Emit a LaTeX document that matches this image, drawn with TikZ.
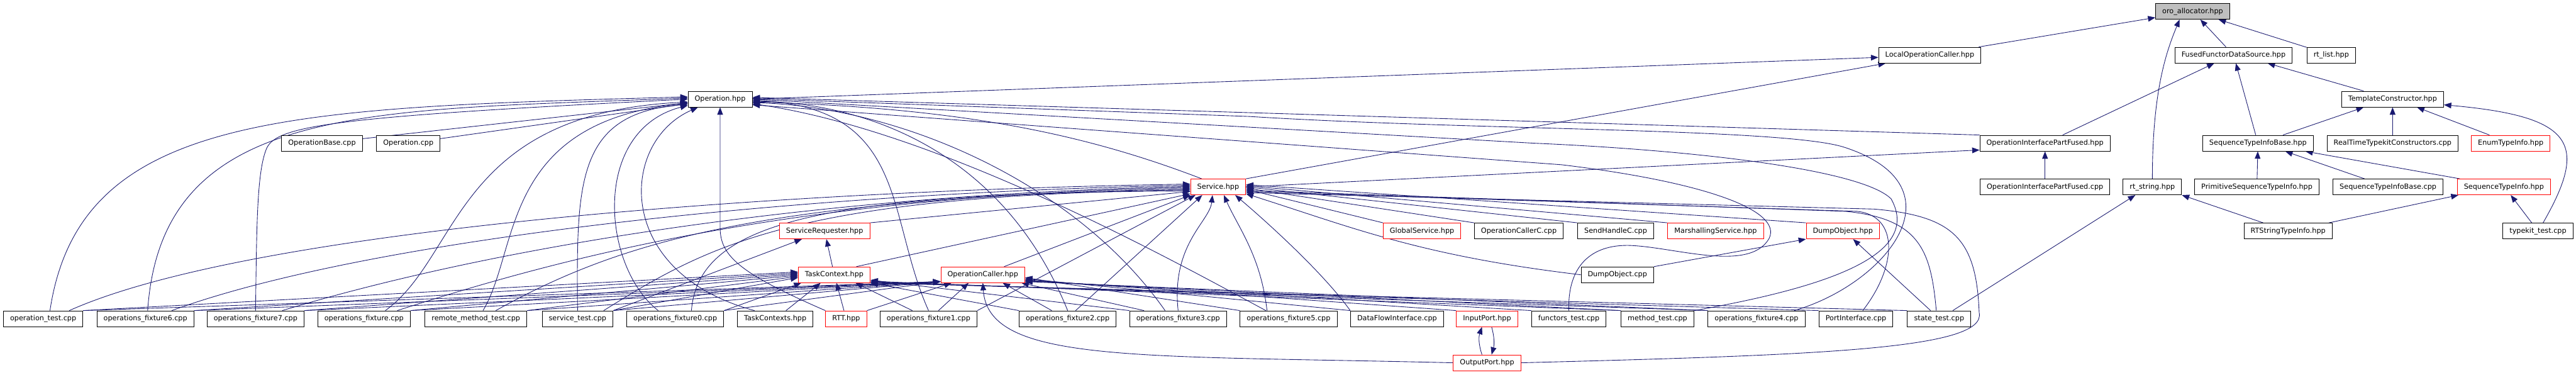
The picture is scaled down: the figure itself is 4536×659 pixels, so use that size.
\documentclass[tikz,border=0pt]{standalone}
\usepackage{fontspec}
\newfontfamily\dejavu{DejaVu Sans}
\usetikzlibrary{arrows.meta}
\usetikzlibrary{backgrounds}
\definecolor{edgeblue}{RGB}{25,25,112}
\definecolor{rootgrey}{RGB}{191,191,191}

\begin{document}
\begin{tikzpicture}[x=0.02cm,y=-0.02cm,
  fbox/.style={draw=black,fill=white,line width=0.6pt,inner xsep=0.234cm,inner ysep=0pt,minimum height=0.554cm,font=\dejavu\fontsize{7.08}{8.5}\selectfont},
  fred/.style={fbox,draw=red},
  froot/.style={fbox,fill=rootgrey},
  incl/.style={draw=edgeblue,line width=0.55pt,-{Triangle[length=0.26cm,width=0.2cm]}}]
\useasboundingbox (0,0) rectangle (4536,659);

\node[froot] (alloc) at (3861,20) {oro\_allocator.hpp};
\node[fbox] (loc) at (3398,97) {LocalOperationCaller.hpp};
\node[fbox] (ffds) at (3933,97) {FusedFunctorDataSource.hpp};
\node[fbox] (rtlist) at (4105,97) {rt\_list.hpp};
\node[fbox] (op) at (1268,174.5) {Operation.hpp};
\node[fbox] (tmplc) at (4213,174.5) {TemplateConstructor.hpp};
\node[fbox] (opbase) at (567,252) {OperationBase.cpp};
\node[fbox] (opcpp) at (719,252) {Operation.cpp};
\node[fbox] (oipf) at (3601,252) {OperationInterfacePartFused.hpp};
\node[fbox] (stib) at (3976,252) {SequenceTypeInfoBase.hpp};
\node[fbox] (rttc) at (4213,252) {RealTimeTypekitConstructors.cpp};
\node[fred] (enumti) at (4421,252) {EnumTypeInfo.hpp};
\node[fred] (service) at (2145,329) {Service.hpp};
\node[fbox] (oipfcpp) at (3601,329) {OperationInterfacePartFused.cpp};
\node[fbox] (rtstr) at (3790,329) {rt\_string.hpp};
\node[fbox] (psti) at (3974,329) {PrimitiveSequenceTypeInfo.hpp};
\node[fbox] (stibcpp) at (4205,329) {SequenceTypeInfoBase.cpp};
\node[fred] (sti) at (4409,329) {SequenceTypeInfo.hpp};
\node[fred] (srvreq) at (1452,406.5) {ServiceRequester.hpp};
\node[fred] (globsrv) at (2504,406.5) {GlobalService.hpp};
\node[fbox] (occ) at (2674.5,406.5) {OperationCallerC.cpp};
\node[fbox] (shc) at (2845,406.5) {SendHandleC.cpp};
\node[fred] (marsh) at (3021,406.5) {MarshallingService.hpp};
\node[fred] (dumph) at (3245,406.5) {DumpObject.hpp};
\node[fbox] (rtsti) at (4029,406.5) {RTStringTypeInfo.hpp};
\node[fbox] (tktest) at (4469,406.5) {typekit\_test.cpp};
\node[fred] (taskctx) at (1469,483.6) {TaskContext.hpp};
\node[fred] (opcaller) at (1730.6,483.6) {OperationCaller.hpp};
\node[fbox] (dumpcpp) at (2848,483.6) {DumpObject.cpp};
\node[fbox] (optest) at (76,561) {operation\_test.cpp};
\node[fbox] (fix6) at (256,561) {operations\_fixture6.cpp};
\node[fbox] (fix7) at (450,561) {operations\_fixture7.cpp};
\node[fbox] (fixt) at (641,561) {operations\_fixture.cpp};
\node[fbox] (remote) at (838,561) {remote\_method\_test.cpp};
\node[fbox] (srvtest) at (1017,561) {service\_test.cpp};
\node[fbox] (fix0) at (1189,561) {operations\_fixture0.cpp};
\node[fbox] (tcs) at (1365,561) {TaskContexts.hpp};
\node[fred] (rtt) at (1490,561) {RTT.hpp};
\node[fbox] (fix1) at (1635,561) {operations\_fixture1.cpp};
\node[fbox] (fix2) at (1880,561) {operations\_fixture2.cpp};
\node[fbox] (fix3) at (2074.5,561) {operations\_fixture3.cpp};
\node[fbox] (fix5) at (2269,561) {operations\_fixture5.cpp};
\node[fbox] (dfi) at (2460,561) {DataFlowInterface.cpp};
\node[fred] (inport) at (2618.5,561) {InputPort.hpp};
\node[fbox] (functors) at (2762.5,561) {functors\_test.cpp};
\node[fbox] (methodt) at (2918.6,561) {method\_test.cpp};
\node[fbox] (fix4) at (3093,561) {operations\_fixture4.cpp};
\node[fbox] (portif) at (3268,561) {PortInterface.cpp};
\node[fbox] (statet) at (3414.5,561) {state\_test.cpp};
\node[fred] (outport) at (2618.5,638.5) {OutputPort.hpp};

\begin{scope}[on background layer]
\fill[white] (0,0) rectangle (4536,659);
\draw[incl] (loc) -- (alloc);
\draw[incl] (ffds) -- (alloc);
\draw[incl] (rtlist) -- (alloc);
\draw[incl] (rtstr.north) .. controls (3790,165) and (3813,94) .. ([xshift=-0.46cm]alloc.south);
\draw[incl] (op.east) -- ([yshift=-0.08cm]loc.west);
\draw[incl] (service.north east) -- ([xshift=0.26cm]loc.south west);
\draw[incl] ([xshift=0.62cm]oipf.north) -- ([xshift=-0.68cm]ffds.south);
\draw[incl] (stib) -- (ffds);
\draw[incl] ([xshift=-1.02cm]tmplc.north) -- ([xshift=1.2cm]ffds.south);
\draw[incl] ([xshift=0.88cm]stib.north) -- ([xshift=-1.02cm]tmplc.south);
\draw[incl] (rttc) -- (tmplc);
\draw[incl] ([xshift=-0.75cm]enumti.north) -- ([xshift=0.86cm]tmplc.south);
\draw[incl] ([xshift=0.18cm]tktest.north) .. controls (4558,253) and (4534,205) .. ([yshift=-0.2cm]tmplc.east);
\draw[incl] (psti) -- (stib);
\draw[incl] ([xshift=-0.83cm]stibcpp.north) -- ([xshift=0.96cm]stib.south);
\draw[incl] ([xshift=0.1cm]sti.north west) -- ([xshift=1.67cm]stib.south);
\draw[incl] ([xshift=1.44cm]rtsti.north) -- ([xshift=-1.6cm]sti.south);
\draw[incl] ([xshift=-0.22cm]tktest.north) -- ([xshift=0.24cm]sti.south);
\draw[incl] ([xshift=-0.88cm]rtsti.north) -- (rtstr.south east);
\draw[incl] ([xshift=0.48cm]statet.north) -- ([xshift=-0.6cm]rtstr.south);
\draw[incl] (oipfcpp) -- (oipf);
\draw[incl] (oipf.north west) -- ([yshift=0.06cm]op.east);
\draw[incl] (service.east) -- ([yshift=-0.24cm]oipf.west);
\draw[incl] ([xshift=-0.58cm]service.north) .. controls (1916,238) and (1700,190) .. ([yshift=-0.1cm]op.east);

\draw[incl] ([xshift=0.24cm]optest.north) .. controls (140,200) and (500,190) .. ([yshift=0.08cm]op.west);
\draw[incl] ([xshift=0.08cm]fix6.north) .. controls (285,180) and (650,195) .. ([yshift=0.04cm]op.west);
\draw[incl] (fix7.north) .. controls (452,400) and (452,300) .. (470,260) .. controls (490,220) and (600,205) .. (op.west);
\draw[incl] (opbase) -- (op);
\draw[incl] (opcpp) -- (op);
\draw[incl] ([xshift=0.75cm]fixt.north) .. controls (812,450) and (800,200) .. ([yshift=-0.1cm]op.west);
\draw[incl] ([xshift=0.25cm]remote.north) .. controls (915,440) and (880,215) .. ([yshift=-0.14cm]op.west);
\draw[incl] (srvtest.north) .. controls (1015,320) and (1015,200) .. ([yshift=-0.18cm]op.west);
\draw[incl] ([xshift=-0.6cm]fix0.north) .. controls (1060,470) and (1040,230) .. ([yshift=-0.22cm]op.west);
\draw[incl] ([xshift=-0.73cm]tcs.north) .. controls (1080,480) and (1090,250) .. ([xshift=0.36cm]op.south west);
\draw[incl] (rtt.north west) .. controls (1300,480) and (1268,450) .. (1268,400) -- (op.south);
\draw[incl] (fix1.north) .. controls (1560,380) and (1600,190) .. ([yshift=-0.04cm]op.east);
\draw[incl] (fix2.north) .. controls (1760,250) and (1500,180) .. ([yshift=-0.08cm]op.east);
\draw[incl] ([xshift=-0.46cm]fix3.north) .. controls (1900,330) and (1600,190) .. ([yshift=-0.12cm]op.east);
\draw[incl] ([xshift=-0.8cm]fix5.north) .. controls (2050,450) and (1650,230) .. ([yshift=-0.16cm]op.east);
\draw[incl] ([xshift=1.33cm]fix4.north) .. controls (3320,500) and (3460,330) .. (3250,260) .. controls (3150,225) and (2600,230) .. (2200,205) -- ([yshift=0.02cm]op.east);
\draw[incl] (methodt.north east) .. controls (3250,500) and (3380,440) .. (3330,350) .. controls (3280,300) and (3000,265) .. (2700,252) -- (op.east);
\draw[incl] (functors.north) .. controls (2760,470) and (2800,430) .. (2870,432) .. controls (2950,435) and (3080,480) .. (3115,420) .. controls (3140,370) and (3000,320) .. (2750,290) -- ([yshift=-0.2cm]op.east);

\draw[incl] (srvreq.north east) -- ([yshift=-0.16cm]service.west);
\draw[incl] ([xshift=0.78cm]taskctx.north) -- ([yshift=-0.24cm]service.west);
\draw[incl] ([xshift=0.75cm]opcaller.north) -- (service.south west);
\draw[incl] ([xshift=0.92cm]optest.north) .. controls (450,400) and (1400,335) .. ([yshift=0.1cm]service.west);
\draw[incl] ([xshift=0.93cm]fix6.north) .. controls (650,420) and (1400,340) .. ([yshift=0.06cm]service.west);
\draw[incl] ([xshift=0.94cm]fix7.north) .. controls (850,440) and (1400,345) .. ([yshift=0.02cm]service.west);
\draw[incl] ([xshift=1.17cm]fixt.north) .. controls (1000,450) and (1400,345) .. ([yshift=-0.02cm]service.west);
\draw[incl] ([xshift=0.7cm]remote.north) .. controls (1100,420) and (1350,350) .. ([yshift=-0.06cm]service.west);
\draw[incl] ([xshift=0.92cm]srvtest.north) .. controls (1250,430) and (1400,345) .. ([yshift=-0.1cm]service.west);
\draw[incl] ([xshift=0.57cm]fix0.north) .. controls (1230,390) and (1450,340) .. ([yshift=-0.14cm]service.west);
\draw[incl] (fix1.north east) -- ([xshift=-0.8cm]service.south);
\draw[incl] ([xshift=0.28cm]fix2.north) -- ([xshift=-0.56cm]service.south);
\draw[incl] (fix3.north) .. controls (2062,430) and (2130,390) .. ([xshift=-0.2cm]service.south);
\draw[incl] ([xshift=-0.76cm]fix5.north) .. controls (2220,450) and (2180,400) .. ([xshift=0.2cm]service.south);
\draw[incl] (dfi.north west) .. controls (2330,480) and (2230,390) .. ([xshift=0.6cm]service.south);
\draw[incl] (dumph.north west) -- ([yshift=0.08cm]service.east);
\draw[incl] (marsh.north west) -- ([yshift=0.04cm]service.east);
\draw[incl] (shc.north west) -- (service.east);
\draw[incl] (occ.north west) -- ([yshift=-0.04cm]service.east);
\draw[incl] (globsrv.north west) -- ([yshift=-0.08cm]service.east);
\draw[incl] ([xshift=-0.1cm]statet.north) .. controls (3400,440) and (3380,385) .. (3250,372) -- ([yshift=-0.12cm]service.east);
\draw[incl] ([xshift=0.24cm]portif.north) .. controls (3340,470) and (3345,380) .. (3270,372) -- ([yshift=-0.16cm]service.east);
\draw[incl] (outport.east) .. controls (3200,625) and (3500,615) .. (3485,550) .. controls (3480,420) and (3440,380) .. (3300,368) -- ([yshift=-0.2cm]service.east);
\draw[incl] (dumpcpp.west) .. controls (2500,450) and (2380,400) .. ([yshift=-0.24cm]service.east);

\draw[incl] (taskctx) -- (srvreq);
\draw[incl] (srvtest.north east) -- ([xshift=-0.8cm]srvreq.south);
\draw[incl] (optest.north east) -- ([yshift=0.1cm]taskctx.west);
\draw[incl] (fix6.north east) -- ([yshift=0.06cm]taskctx.west);
\draw[incl] (fix7.north east) -- ([yshift=0.02cm]taskctx.west);
\draw[incl] (fixt.north east) -- ([yshift=-0.02cm]taskctx.west);
\draw[incl] (remote.north east) -- ([yshift=-0.06cm]taskctx.west);
\draw[incl] (srvtest.north east) -- ([yshift=-0.1cm]taskctx.west);
\draw[incl] (fix0.north east) -- ([xshift=-1.16cm]taskctx.south);
\draw[incl] ([xshift=0.38cm]tcs.north) -- ([xshift=-0.48cm]taskctx.south);
\draw[incl] (rtt) -- (taskctx);
\draw[incl] ([xshift=-0.57cm]fix1.north) -- ([xshift=0.75cm]taskctx.south);
\draw[incl] (fix2.north west) -- (taskctx.south east);
\draw[incl] (fix3.north west) -- ([yshift=0.1cm]taskctx.south east);
\draw[incl] (methodt.north west) -- ([yshift=0.06cm]taskctx.south east);
\draw[incl] (fix4.north west) -- ([yshift=0.04cm]taskctx.south east);
\draw[incl] (portif.north west) -- ([yshift=0.02cm]taskctx.south east);
\draw[incl] (statet.north west) -- (taskctx.south east);

\draw[incl] (optest.north east) -- ([yshift=-0.24cm]opcaller.west);
\draw[incl] (fix6.north east) -- ([yshift=-0.24cm]opcaller.west);
\draw[incl] (fix7.north east) -- ([yshift=-0.24cm]opcaller.west);
\draw[incl] (fixt.north east) -- ([yshift=-0.24cm]opcaller.west);
\draw[incl] (remote.north east) -- ([yshift=-0.24cm]opcaller.west);
\draw[incl] (srvtest.north east) -- ([yshift=-0.24cm]opcaller.west);
\draw[incl] (fix0.north east) -- ([yshift=-0.24cm]opcaller.west);
\draw[incl] (rtt.north east) -- ([xshift=-1.1cm]opcaller.south);
\draw[incl] ([xshift=0.35cm]fix1.north) -- ([xshift=-0.5cm]opcaller.south);
\draw[incl] ([xshift=-0.56cm]fix2.north) -- ([xshift=0.7cm]opcaller.south);
\draw[incl] ([xshift=-1.2cm]fix3.north) -- ([xshift=1.36cm]opcaller.south);
\draw[incl] (fix5.north west) -- ([yshift=-0.1cm]opcaller.east);
\draw[incl] (dfi.north west) -- ([yshift=-0.14cm]opcaller.east);
\draw[incl] (inport.north west) -- ([yshift=-0.18cm]opcaller.east);
\draw[incl] (functors.north west) -- ([yshift=-0.2cm]opcaller.east);
\draw[incl] (methodt.north west) -- ([yshift=-0.22cm]opcaller.east);
\draw[incl] (fix4.north west) -- ([yshift=-0.24cm]opcaller.east);
\draw[incl] (outport.west) .. controls (2000,625) and (1740,640) .. (opcaller.south);

\draw[incl] (dumpcpp.north east) -- (dumph.south west);
\draw[incl] ([xshift=-0.3cm]statet.north) -- ([xshift=0.36cm]dumph.south);
\draw[incl] ([xshift=-0.18cm]outport.north) .. controls +(-6,-18) and +(-6,18) .. ([xshift=-0.18cm]inport.south);
\draw[incl] ([xshift=0.16cm]inport.south) .. controls +(5,18) and +(5,-18) .. ([xshift=0.16cm]outport.north);
\end{scope}

\end{tikzpicture}
\end{document}
